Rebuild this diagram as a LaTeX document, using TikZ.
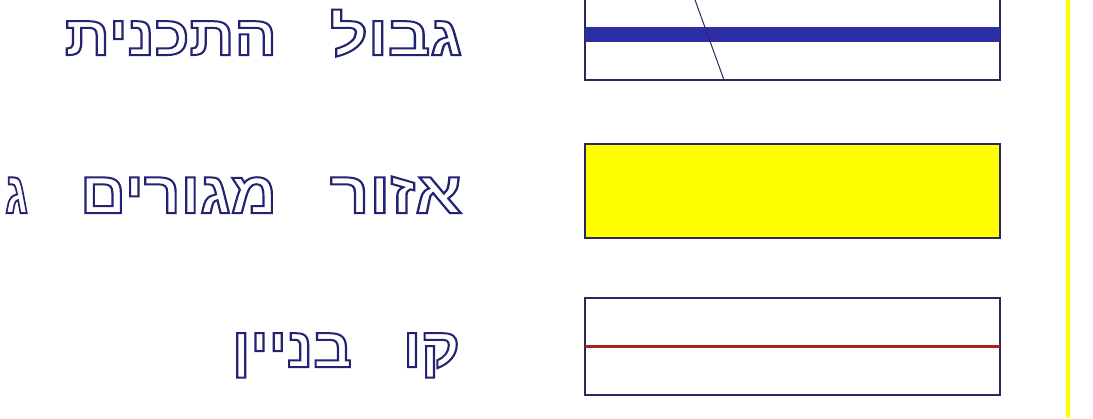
\documentclass[tikz,border=0pt]{standalone}
\usepackage{fontspec}
\usepackage{graphicx}
\newfontfamily\hebfont[Script=Hebrew]{Liberation Sans}
\TeXXeTstate=1
\definecolor{ink}{RGB}{35,35,115}
\definecolor{framec}{RGB}{40,40,95}
\definecolor{bandc}{RGB}{45,45,165}
\definecolor{rlinec}{RGB}{175,30,30}
\definecolor{ylwc}{RGB}{255,255,0}
\newcommand{\outl}[2]{\resizebox{#1}{\height}{\special{pdf:literal direct 1 Tr 2 w}\hebfont\bfseries\beginR #2\endR\special{pdf:literal direct 0 Tr}}}
\begin{document}
\begin{tikzpicture}[x=1bp,y=-1bp,
  every node/.style={inner sep=0pt, outer sep=0pt},
  lbl/.style={anchor=base east, text=ink, font=\hebfont\fontsize{56}{56}\selectfont},
  lblb/.style={lbl, font=\hebfont\fontsize{59}{59}\selectfont},
  legbox/.style={draw=framec, line width=1.8bp, anchor=north west, minimum width=415bp}]
\clip (0,0) rectangle (1093,418);
\fill[white] (0,0) rectangle (1093,418);
% yellow edge line
\draw[ylwc, line width=4bp] (1068,0) -- (1068,418);
% box 1: plan boundary
\node[legbox, minimum height=105bp] (b1) at (585,-25) {};
\fill[bandc] (585,27) rectangle (1000,42);
\draw[framec, line width=1bp] (690,-14) -- (724,80);
% box 2: residential zone
\node[legbox, fill=ylwc, minimum height=94bp] (b2) at (585,144) {};
% box 3: building line
\node[legbox, minimum height=97bp] (b3) at (585,298) {};
\draw[rlinec, line width=3bp] (585,346) -- (1000,346);
% labels
\node[lbl] (t1a) at (462,55) {\outl{132bp}{גבול}};
\node[lbl] (t1b) at (277,55) {\outl{212bp}{התכנית}};
\node[lblb] (t2a) at (462,213) {\outl{132bp}{אזור}};
\node[lblb] (t2b) at (277,213) {\outl{197bp}{מגורים}};
\node[lblb] (t2c) at (28,213) {\outl{23bp}{ג}};
\node[lbl] (t3a) at (460,367) {\outl{57bp}{קו}};
\node[lbl] (t3b) at (352,367) {\outl{120bp}{בניין}};
\end{tikzpicture}
\end{document}
